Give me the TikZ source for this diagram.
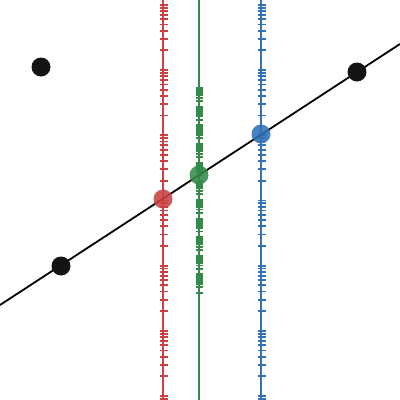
\documentclass[tikz,border=0pt]{standalone}
\usetikzlibrary{calc}
\definecolor{rugred}{RGB}{204,66,66}
\definecolor{ruggreen}{RGB}{52,138,72}
\definecolor{rugblue}{RGB}{48,114,182}
\tikzset{
  plotbase/.style={x=1pt,y=-1pt,line cap=butt},
  axisline/.style={line width=1.7pt},
  tickmark/.style={line width=1.8pt},
  fitline/.style={draw=black,line width=1.8pt},
  datadot/.style={circle,fill=black!92,inner sep=0pt,minimum size=19pt},
  hitdot/.style={circle,inner sep=0pt,minimum size=19pt,fill opacity=.88}
}

\begin{document}
\begin{tikzpicture}[plotbase]
\useasboundingbox (0,0) rectangle (400,400);
\coordinate (redtop) at (163,0);
\coordinate (redbot) at (163,400);
\coordinate (greentop) at (199,0);
\coordinate (greenbot) at (199,400);
\coordinate (bluetop) at (261,0);
\coordinate (bluebot) at (261,400);
\coordinate (fitstart) at (0,305);
\coordinate (fitend) at (400,44);
\draw[axisline,draw=rugred] (redtop) -- (redbot);
\draw[axisline,draw=ruggreen] (greentop) -- (greenbot);
\draw[axisline,draw=rugblue] (bluetop) -- (bluebot);
\begin{scope}
\clip (0,0) rectangle (400,400);
\foreach \k in {-1,...,6}
  \foreach \m in {1,...,9} {
    \pgfmathsetmacro\yy{396-65.2*\k-65.2*ln(\m)/ln(10)}
    \draw[tickmark,draw=rugred] (159.5,\yy) -- (167.5,\yy);
    \draw[tickmark,draw=rugblue] (257.5,\yy) -- (265.5,\yy);
  }
\foreach \k in {0,...,10}
  \foreach \m in {1,...,9} {
    \pgfmathsetmacro\yy{293-18.64*\k-18.64*ln(\m)/ln(10)}
    \draw[tickmark,draw=ruggreen] (195.5,\yy) -- (203,\yy);
  }
\draw[tickmark,draw=ruggreen] (195.5,88) -- (203,88);
\end{scope}
\draw[fitline] (fitstart) -- (fitend);
\node[datadot] (ptleft) at (41,67) {};
\node[datadot] (ptlow) at (61,266) {};
\node[datadot] (pthigh) at (357,72) {};
\node[hitdot,fill=rugred] (hitred) at (163,199) {};
\node[hitdot,fill=ruggreen] (hitgreen) at (199,175) {};
\node[hitdot,fill=rugblue] (hitblue) at (261,134) {};
\end{tikzpicture}
\end{document}
